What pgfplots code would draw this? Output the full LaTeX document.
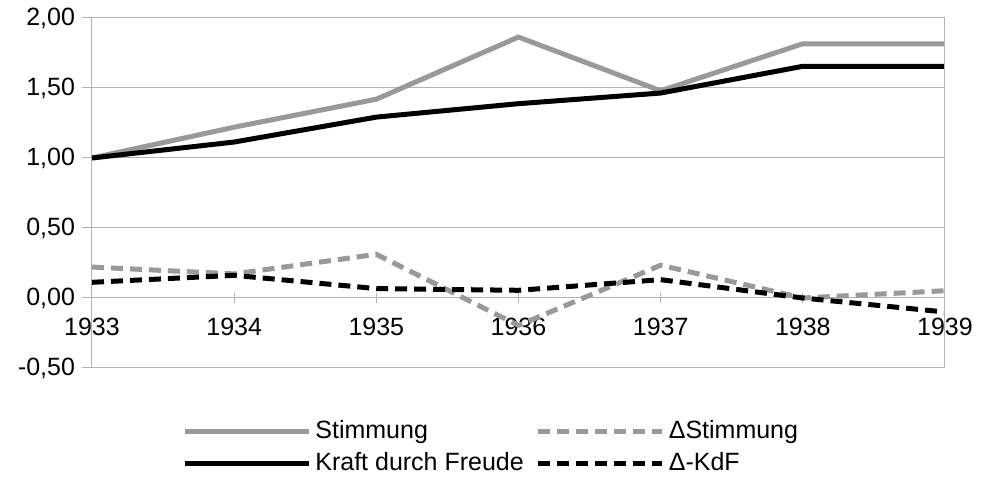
\documentclass[border=0pt]{standalone}
\usepackage{fontspec}
\setmainfont{Liberation Sans}
\usepackage{pgfplots}
\pgfplotsset{compat=1.18}
\usetikzlibrary{calc}
\definecolor{stgray}{HTML}{999999}
\definecolor{gridgray}{HTML}{B3B3B3}

\begin{document}
\begin{tikzpicture}
\begin{axis}[
    scale only axis,
    width=426.5pt, height=175pt,
    xmin=1933, xmax=1939, ymin=-0.5, ymax=2,
    xtick={1933,1934,1935,1936,1937,1938,1939},
    ytick={-0.5,0,0.5,1,1.5,2},
    axis y line*=left, axis x line*=middle,
    hide obscured x ticks=false,
    axis line style={gridgray, line width=0.5pt},
    ymajorgrids,
    grid style={gridgray, line width=0.5pt},
    major tick length=5pt,
    tick style={gridgray, line width=0.5pt},
    ytick align=outside,
    x tick style={yshift=-2.5pt},
    ticklabel style={font=\fontsize{12.5}{15}\selectfont},
    yticklabel style={/pgf/number format/.cd, fixed, fixed zerofill, precision=2, use comma, assume math mode=true},
    xticklabel style={yshift=-6.5pt, /pgf/number format/.cd, 1000 sep={}, assume math mode=true},
    legend columns=2,
    legend cell align=left,
    legend image code/.code={\draw[#1] (0pt,0pt) -- (62pt,0pt);},
    legend style={draw=none, fill=none, inner sep=0pt,
        at={(axis description cs:0.1055,-0.14)}, anchor=north west,
        font=\fontsize{12.5}{15}\selectfont,
        nodes={inner sep=1pt, text height=9.5pt, text depth=2.5pt},
        row sep=2pt,
        /tikz/every odd column/.append style={column sep=1pt},
        /tikz/every even column/.append style={column sep=5pt}},
    every axis plot/.append style={line width=2.5pt, line join=round},
    after end axis/.code={
        \draw[gridgray, line width=0.5pt] (rel axis cs:1,0) -- (rel axis cs:1,1);
        \coordinate (bl) at (rel axis cs:0,0);
    },
]
\addplot[stgray] coordinates {(1933,1.00) (1934,1.22) (1935,1.42) (1936,1.864) (1937,1.48) (1938,1.816) (1939,1.816)};
\addlegendentry{Stimmung}
\addplot[stgray, dash pattern=on 6pt off 3.5pt] coordinates {(1933,0.221) (1934,0.172) (1935,0.312) (1936,-0.196) (1937,0.234) (1938,0.0) (1939,0.052)};
\addlegendentry{ΔStimmung}
\addplot[black] coordinates {(1933,1.00) (1934,1.114) (1935,1.292) (1936,1.388) (1937,1.464) (1938,1.655) (1939,1.655)};
\addlegendentry{Kraft durch Freude}
\addplot[black, dash pattern=on 6pt off 3.5pt] coordinates {(1933,0.112) (1934,0.162) (1935,0.067) (1936,0.055) (1937,0.131) (1938,0.0) (1939,-0.1)};
\addlegendentry{Δ-KdF}
\end{axis}
\pgfresetboundingbox
\path ($(bl)+(-46pt,-56.5pt)$) rectangle ($(bl)+(450.5pt,184pt)$);
\end{tikzpicture}
\end{document}
